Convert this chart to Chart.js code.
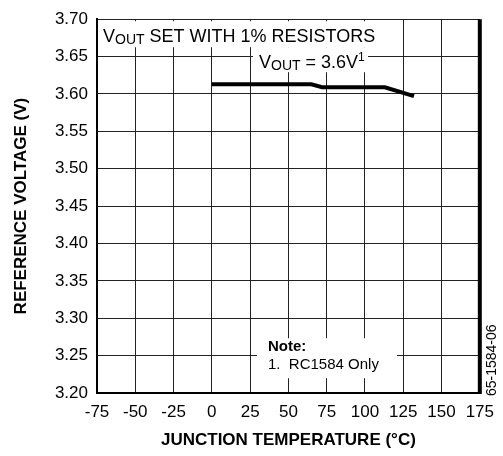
<!DOCTYPE html>
<html>
<head>
<meta charset="utf-8">
<script src="https://cdn.jsdelivr.net/npm/chart.js@4.4.1/dist/chart.umd.min.js"></script>
<style>
  html, body { margin: 0; padding: 0; background: #fff; }
  #wrap { width: 503px; height: 456px; }
</style>
</head>
<body>
<div id="wrap"><canvas id="myChart" width="503" height="456"></canvas></div>
<script>
// data
var temps = [0, 65, 72, 113, 132]
var vref = [3.613, 3.613, 3.609, 3.609, 3.597]
var xTicks = [-75, -50, -25, 0, 25, 50, 75, 100, 125, 150, 175]
var yTicks = [3.20, 3.25, 3.30, 3.35, 3.40, 3.45, 3.50, 3.55, 3.60, 3.65, 3.70]

var FONT = "'Liberation Sans', Arial, sans-serif"

var points = []
for (i = 0; i < temps.length; i++) {
    points.push({x: temps[i], y: vref[i]})
}

//White labels on top of the grid + thick right border
var notes = {
    id: 'notes',
    afterDraw: function(chart) {
        var ctx = chart.ctx
        var a = chart.chartArea
        ctx.save()
        ctx.fillStyle = '#fff'
        ctx.fillRect(a.left + 1, a.top + 2, 285, 26)
        ctx.fillRect(a.left + 156, a.top + 28, 115, 25)
        ctx.fillRect(a.left + 160, a.top + 319, 140, 40)

        ctx.fillStyle = '#000'
        ctx.textBaseline = 'alphabetic'
        ctx.textAlign = 'left'
        // V_OUT SET WITH 1% RESISTORS
        var x = a.left + 6
        var y = a.top + 23
        ctx.font = '18px ' + FONT
        ctx.fillText('V', x, y)
        x += ctx.measureText('V').width
        ctx.font = '14px ' + FONT
        ctx.fillText('OUT', x, y + 2)
        x += ctx.measureText('OUT').width
        ctx.font = '18px ' + FONT
        ctx.fillText(' SET WITH 1% RESISTORS', x, y)

        // V_OUT = 3.6V^1
        x = a.left + 162
        y = a.top + 49
        ctx.font = '18px ' + FONT
        ctx.fillText('V', x, y)
        x += ctx.measureText('V').width
        ctx.font = '14px ' + FONT
        ctx.fillText('OUT', x, y + 2)
        x += ctx.measureText('OUT').width
        ctx.font = '18px ' + FONT
        ctx.fillText(' = 3.6V', x, y)
        x += ctx.measureText(' = 3.6V').width
        ctx.font = '12px ' + FONT
        ctx.fillText('1', x, y - 7)

        // note
        ctx.font = 'bold 15px ' + FONT
        ctx.fillText('Note:', a.left + 171, a.top + 332)
        ctx.font = '15px ' + FONT
        ctx.fillText('1.  RC1584 Only', a.left + 171, a.top + 350)

        // right border
        ctx.strokeStyle = '#000'
        ctx.lineWidth = 4
        ctx.beginPath()
        ctx.moveTo(a.right, a.top)
        ctx.lineTo(a.right, a.bottom + 1)
        ctx.stroke()

        // figure code
        ctx.translate(a.right + 12, a.top + 341)
        ctx.rotate(-Math.PI / 2)
        ctx.textAlign = 'center'
        ctx.textBaseline = 'middle'
        ctx.font = '14px ' + FONT
        ctx.fillText('65-1584-06', 0, 0)
        ctx.restore()
    }
}

var ctx = document.getElementById('myChart').getContext('2d')
var myChart = new Chart(ctx, {
    type: 'line',
    data: {
        datasets: [{
            data: points,
            borderColor: '#000',
            borderWidth: 4,
            pointRadius: 0,
            tension: 0,
            fill: false
        }]
    },
    options: {
        responsive: false,
        animation: false,
        devicePixelRatio: 1,
        layout: {
            padding: {left: 0, right: 21, top: 15, bottom: 0}
        },
        plugins: {
            legend: {display: false},
            tooltip: {enabled: false}
        },
        scales: {
            x: {
                type: 'linear',
                min: -75,
                max: 175,
                afterBuildTicks: function(s) {
                    s.ticks = xTicks.map(function(v) { return {value: v} })
                },
                afterFit: function(s) { s.height = 63 },
                grid: {color: '#222', lineWidth: 1, drawTicks: false},
                border: {color: '#000', width: 2},
                ticks: {
                    color: '#000',
                    padding: 9,
                    maxRotation: 0,
                    font: {family: FONT, size: 17}
                },
                title: {
                    display: true,
                    text: 'JUNCTION TEMPERATURE (°C)',
                    color: '#000',
                    font: {family: FONT, size: 17, weight: 'bold'},
                    padding: {top: 0, bottom: 5}
                }
            },
            y: {
                type: 'linear',
                min: 3.2,
                max: 3.7,
                afterBuildTicks: function(s) {
                    s.ticks = yTicks.map(function(v) { return {value: v} })
                },
                afterFit: function(s) { s.width = 97 },
                grid: {color: '#222', lineWidth: 1, drawTicks: false},
                border: {color: '#000', width: 2},
                ticks: {
                    color: '#000',
                    padding: 9,
                    font: {family: FONT, size: 17},
                    callback: function(v) { return v.toFixed(2) }
                },
                title: {
                    display: true,
                    text: 'REFERENCE VOLTAGE (V)',
                    color: '#000',
                    font: {family: FONT, size: 17, weight: 'bold'},
                    padding: {top: 11, bottom: 0}
                }
            }
        }
    },
    plugins: [notes]
});
</script>
</body>
</html>
